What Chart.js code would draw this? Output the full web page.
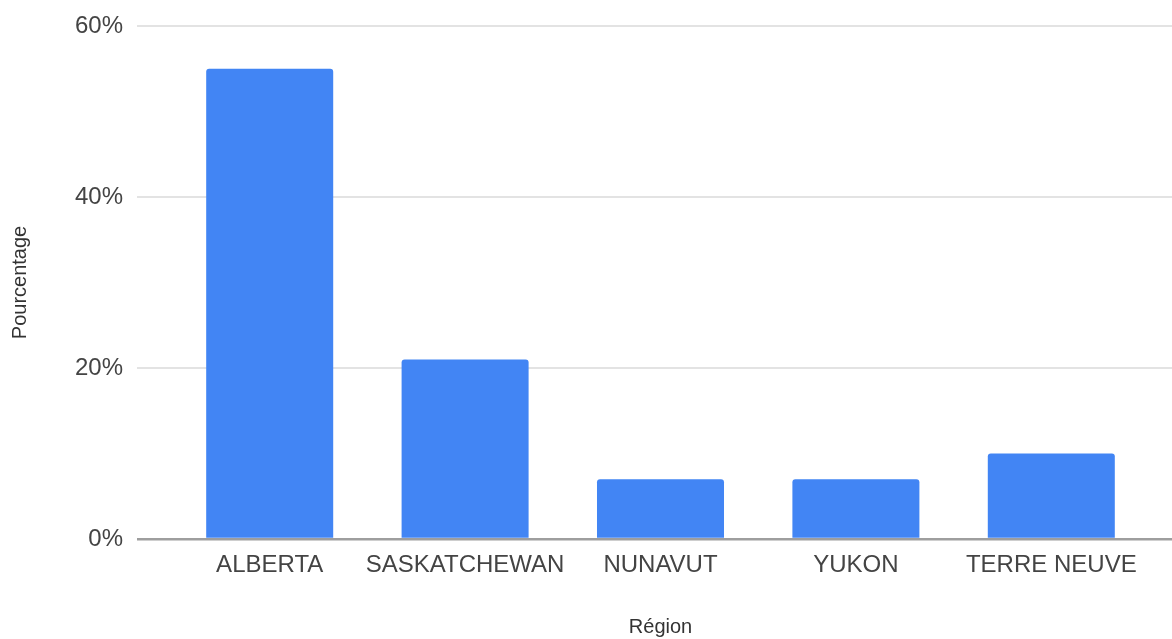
<!DOCTYPE html>
<html>
<head>
<meta charset="utf-8">
<script src="https://cdn.jsdelivr.net/npm/chart.js@4/dist/chart.umd.min.js"></script>
<style>
  html, body { margin: 0; padding: 0; background: #fff; }
  #wrap { width: 1172px; height: 639px; }
</style>
</head>
<body>
<div id="wrap"><canvas id="chart"></canvas></div>
<script>
const regions = ['ALBERTA', 'SASKATCHEWAN', 'NUNAVUT', 'YUKON', 'TERRE NEUVE'];
const percentages = [55, 21, 7, 7, 10];
const yTicks = [0, 20, 40, 60];

const gridColor = ctx => (ctx.tick && ctx.tick.value === 0 ? '#9e9e9e' : '#e3e3e3');
const gridWidth = ctx => (ctx.tick && ctx.tick.value === 0 ? 2.5 : 2);

new Chart(document.getElementById('chart'), {
    type: 'bar',
    data: {
        labels: regions,
        datasets: [{
            data: percentages,
            backgroundColor: '#4285F4',
            borderRadius: 3,
            borderSkipped: 'bottom',
            barPercentage: 0.65,
            categoryPercentage: 1
        }]
    },
    options: {
        responsive: true,
        maintainAspectRatio: false,
        animation: false,
        layout: { padding: { top: 20, left: 0, right: 0, bottom: 0 } },
        plugins: {
            legend: { display: false },
            tooltip: { enabled: false }
        },
        scales: {
            x: {
                grid: { display: false, drawTicks: false },
                border: { display: false },
                ticks: {
                    color: '#444',
                    padding: 12,
                    maxRotation: 0,
                    autoSkip: false,
                    font: { family: '"Liberation Sans", Arial, sans-serif', size: 24 }
                },
                title: {
                    display: true,
                    text: 'Région',
                    color: '#333',
                    padding: { top: 0, bottom: 0 },
                    font: { family: '"Liberation Sans", Arial, sans-serif', size: 20 }
                },
                afterFit: scale => { scale.height = 100; }
            },
            y: {
                min: 0,
                max: 60,
                afterBuildTicks: scale => { scale.ticks = yTicks.map(v => ({ value: v })); },
                grid: { color: gridColor, lineWidth: gridWidth, tickLength: 35 },
                border: { display: false },
                ticks: {
                    color: '#444',
                    padding: 14,
                    callback: v => v + '%',
                    font: { family: '"Liberation Sans", Arial, sans-serif', size: 24, lineHeight: 1 }
                },
                title: {
                    display: true,
                    text: 'Pourcentage',
                    color: '#333',
                    padding: { top: 8, bottom: 0 },
                    font: { family: '"Liberation Sans", Arial, sans-serif', size: 20 }
                },
                afterFit: scale => { scale.width = 172; }
            },
            // keeps the grid lines running on to the right edge
            yRight: {
                position: 'right',
                min: 0,
                max: 60,
                afterBuildTicks: scale => { scale.ticks = yTicks.map(v => ({ value: v })); },
                grid: { drawOnChartArea: false, color: gridColor, lineWidth: gridWidth, tickLength: 23 },
                border: { display: false },
                ticks: { display: false }
            }
        }
    }
});
</script>
</body>
</html>
